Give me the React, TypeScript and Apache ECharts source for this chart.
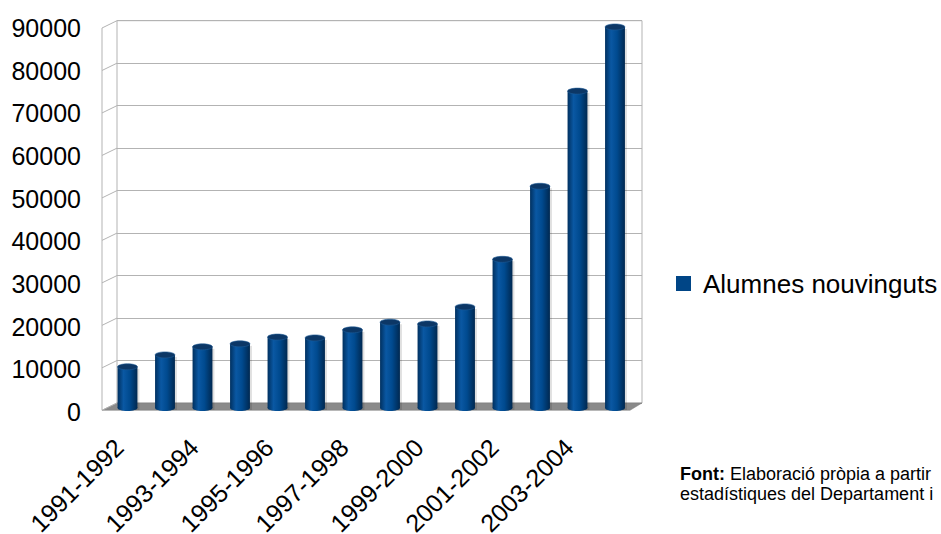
import React, { useEffect, useRef } from "react";
import * as echarts from "echarts";

const categories = [
  "1991-1992", "1992-1993", "1993-1994", "1994-1995", "1995-1996", "1996-1997", "1997-1998",
  "1998-1999", "1999-2000", "2000-2001", "2001-2002", "2002-2003", "2003-2004", "2004-2005",
];
const values = [9700, 12500, 14400, 15100, 16700, 16500, 18400, 20200, 19800, 23800, 35000, 52200, 74600, 89700];
const seriesName = "Alumnes nouvinguts";
const yTickValues = [0, 10000, 20000, 30000, 40000, 50000, 60000, 70000, 80000, 90000];
const footnoteBold = "Font:";
const footnoteLine1 = " Elaboració pròpia a partir";
const footnoteLine2 = "estadístiques del Departament i";

const FONT = "'Liberation Sans', Arial, sans-serif";
const BLUE = "#004586";
const GRID_LINE = "#b3b3b3";

export default function App() {
  const ref = useRef<HTMLDivElement>(null);

  useEffect(() => {
    if (!ref.current) return;
    const chart = echarts.init(ref.current, undefined, { renderer: "svg" });

    const barGradient = new echarts.graphic.LinearGradient(0, 0, 1, 0, [
      { offset: 0, color: "#00305f" },
      { offset: 0.3, color: "#0a58a3" },
      { offset: 0.6, color: "#004a8f" },
      { offset: 1, color: "#002850" },
    ]);

    const option: any = {
      animation: false,
      backgroundColor: "#ffffff",
      textStyle: { fontFamily: FONT },
      grid: [
        // back wall
        { left: 117, top: 20.7, width: 525, height: 382.3, show: true, borderColor: GRID_LINE, borderWidth: 1, backgroundColor: "transparent", outerBoundsMode: "none" },
        // bars (mid depth)
        { left: 108.75, top: 25.7, width: 525, height: 382.3, outerBoundsMode: "none" },
        // y labels (front)
        { left: 102, top: 28, width: 528, height: 384, outerBoundsMode: "none" },
        // x labels
        { left: 100.25, top: 405, width: 525, height: 6, outerBoundsMode: "none" },
      ],
      xAxis: [0, 1, 2, 3].map((i) => ({
        type: "category",
        gridIndex: i,
        data: categories,
        show: i === 3,
        axisLine: { show: false },
        axisTick: { show: false },
        splitLine: { show: false },
        axisLabel:
          i === 3
            ? { show: true, interval: 1, rotate: 45, margin: 32, fontSize: 25, color: "#000", fontFamily: FONT }
            : { show: false },
      })),
      yAxis: [0, 1, 2, 3].map((i) => ({
        type: "value",
        gridIndex: i,
        min: 0,
        max: 90000,
        interval: 10000,
        show: i === 0 || i === 2,
        axisLine: { show: false },
        axisTick: { show: false },
        splitLine: { show: i === 0, lineStyle: { color: GRID_LINE, width: 1 } },
        axisLabel:
          i === 2
            ? { show: true, margin: 21, fontSize: 25, color: "#000", fontFamily: FONT, formatter: (v: number) => String(v) }
            : { show: false },
      })),
      legend: {
        show: true,
        left: 671,
        top: 265.5,
        itemWidth: 15,
        itemHeight: 15,
        data: [{ name: seriesName, icon: "rect", itemStyle: { color: BLUE } }],
        textStyle: { fontSize: 26, color: "#000", fontFamily: FONT, padding: [0, 0, 0, 7] },
        selectedMode: false,
      },
      series: [
        {
          type: "custom",
          name: "walls",
          xAxisIndex: 0,
          yAxisIndex: 0,
          z: 1,
          silent: true,
          data: [[0, 0]],
          renderItem: (params: any, api: any) => {
            const half = api.size([1, 0])[0] / 2;
            const c0 = api.coord([0, 0]);
            const cN = api.coord([categories.length - 1, 0]);
            const xl = c0[0] - half;
            const xr = cN[0] + half;
            const y0 = c0[1];
            const FL = 15;
            const FR = 12;
            const DY = 7.3;
            const children: any[] = [];
            children.push({
              type: "polygon",
              shape: { points: [[xl, y0], [xr, y0], [xr - FR, y0 + DY], [xl - FL, y0 + DY]] },
              style: { fill: "#8a8a8a", stroke: "#7a7a7a", lineWidth: 0.5 },
            });
            yTickValues.forEach((v) => {
              const y = api.coord([0, v])[1];
              children.push({
                type: "line",
                shape: { x1: xl, y1: y, x2: xl - FL, y2: y + DY },
                style: { stroke: GRID_LINE, lineWidth: 1 },
              });
            });
            const yTop = api.coord([0, yTickValues[yTickValues.length - 1]])[1];
            children.push({
              type: "line",
              shape: { x1: xl - FL, y1: yTop + DY, x2: xl - FL, y2: y0 + DY },
              style: { stroke: GRID_LINE, lineWidth: 1 },
            });
            return { type: "group", children };
          },
        },
        {
          type: "custom",
          name: seriesName,
          xAxisIndex: 1,
          yAxisIndex: 1,
          z: 3,
          itemStyle: { color: BLUE },
          encode: { x: 0, y: 1 },
          data: values.map((v, i) => [i, v]),
          renderItem: (params: any, api: any) => {
            const i = api.value(0);
            const v = api.value(1);
            const top = api.coord([i, v]);
            const base = api.coord([i, 0]);
            const w = api.size([1, 0])[0] * 0.53;
            const cx = top[0];
            const ry = 3;
            return {
              type: "group",
              children: [
                {
                  type: "rect",
                  shape: { x: cx + 2, y: top[1] + 2, width: w / 2, height: base[1] - top[1] },
                  style: { fill: "rgba(0,0,0,0.12)" },
                },
                {
                  type: "ellipse",
                  shape: { cx, cy: base[1], rx: w / 2, ry },
                  style: { fill: barGradient },
                },
                {
                  type: "rect",
                  shape: { x: cx - w / 2, y: top[1], width: w, height: base[1] - top[1] },
                  style: { fill: barGradient },
                },
                {
                  type: "ellipse",
                  shape: { cx, cy: top[1], rx: w / 2, ry },
                  style: { fill: "#0c3766", stroke: "#1f5a96", lineWidth: 0.6 },
                },
              ],
            };
          },
        },
      ],
      graphic: [
        {
          type: "text",
          left: 680,
          top: 464,
          style: {
            text: "{b|" + footnoteBold + "}" + footnoteLine1 + "\n" + footnoteLine2,
            fontSize: 18,
            lineHeight: 20,
            fontFamily: FONT,
            fill: "#000",
            rich: {
              b: { fontWeight: "bold", fontSize: 18, lineHeight: 20, fontFamily: FONT, fill: "#000" },
            },
          },
        },
      ],
    };

    chart.setOption(option);
    return () => chart.dispose();
  }, []);

  return (
    <div
      ref={ref}
      style={{ position: "fixed", left: 0, top: 0, width: 941, height: 534, background: "#fff" }}
    />
  );
}
